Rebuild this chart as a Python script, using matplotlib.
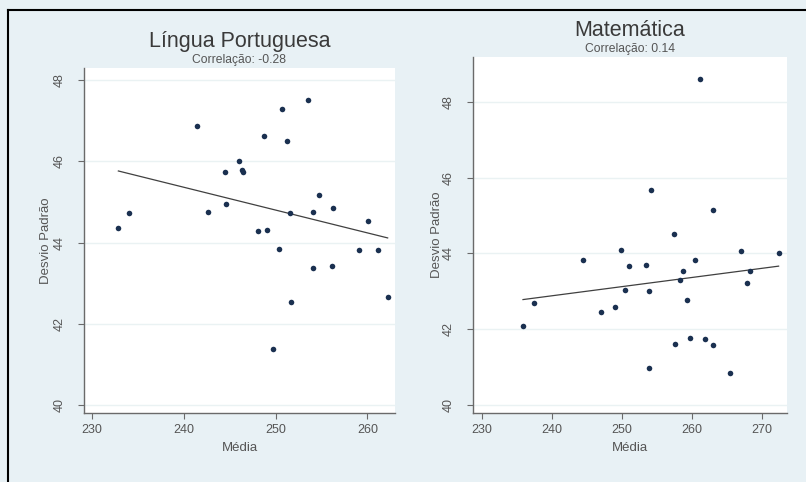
import numpy as np
import matplotlib
matplotlib.use("Agg")
import matplotlib.pyplot as plt
from matplotlib.lines import Line2D

plt.rcParams['font.family'] = ['Liberation Sans', 'DejaVu Sans']

# Língua Portuguesa
lp_media = [232.9, 234.1, 241.5, 242.6, 244.5, 244.6, 246.0, 246.4, 246.5, 248.1,
            249.1, 248.7, 249.7, 250.4, 250.7, 251.3, 251.6, 251.7, 253.5, 254.1,
            254.1, 254.7, 256.2, 256.1, 259.1, 260.1, 261.2, 262.2]
lp_dp = [44.37, 44.73, 46.87, 44.75, 45.73, 44.94, 46.00, 45.78, 45.74, 44.29,
         44.31, 46.62, 41.37, 43.84, 47.30, 46.51, 44.73, 42.53, 47.51, 44.74,
         43.37, 45.18, 44.84, 43.43, 43.81, 44.54, 43.81, 42.67]

# Matemática
mt_media = [235.9, 237.4, 244.4, 247.1, 249.1, 249.95, 250.4, 251.1, 253.4, 253.9,
            253.9, 254.2, 257.4, 257.6, 258.3, 258.8, 259.3, 259.7, 260.5, 261.2,
            261.9, 263.0, 263.1, 265.4, 267.1, 267.9, 268.3, 272.4]
mt_dp = [42.08, 42.69, 43.82, 42.45, 42.59, 44.09, 43.03, 43.67, 43.70, 43.00,
         40.97, 45.67, 44.52, 41.61, 43.31, 43.53, 42.77, 41.76, 43.82, 48.59,
         41.74, 41.58, 45.15, 40.85, 44.07, 43.23, 43.53, 44.02]

titles = ["Língua Portuguesa", "Matemática"]
subtitles = ["Correlação: -0.28", "Correlação: 0.14"]
x_ticks = [[230, 240, 250, 260], [230, 240, 250, 260, 270]]
y_ticks = [40, 42, 44, 46, 48]

W, H = 806, 482
bg = '#e8f1f5'
fig = plt.figure(figsize=(W / 100, H / 100), dpi=100, facecolor=bg)

# border (left and top visible)
fig.add_artist(Line2D([8 / W, 8 / W], [0, 1 - 10 / H], transform=fig.transFigure, color='black', lw=1.5))
fig.add_artist(Line2D([8 / W, 1], [1 - 10 / H, 1 - 10 / H], transform=fig.transFigure, color='black', lw=1.5))

panels = [
    dict(px=(84, 395, 68, 413), xlim=(229.16, 263.0), ylim=(39.80, 48.30),
         x=lp_media, y=lp_dp, ylab_right=52),
    dict(px=(473, 787, 57, 413), xlim=(228.76, 273.6), ylim=(39.79, 49.18),
         x=mt_media, y=mt_dp, ylab_right=443),
]

for i, p in enumerate(panels):
    x0, x1, y0, y1 = p['px']
    ax = fig.add_axes([x0 / W, 1 - y1 / H, (x1 - x0) / W, (y1 - y0) / H])
    ax.set_facecolor('white')
    ax.set_xlim(*p['xlim'])
    ax.set_ylim(*p['ylim'])
    for s in ['top', 'right']:
        ax.spines[s].set_visible(False)
    for s in ['left', 'bottom']:
        ax.spines[s].set_color('#6a6a6a')
        ax.spines[s].set_linewidth(1.0)
    ax.set_xticks(x_ticks[i])
    ax.set_yticks(y_ticks)
    ax.set_yticklabels([str(v) for v in y_ticks], rotation=90, va='center')
    ax.tick_params(axis='both', colors='#6a6a6a', labelcolor='#555555',
                   labelsize=9, length=4, width=0.8)
    ax.tick_params(axis='y', pad=9)
    ax.tick_params(axis='x', pad=4)
    ax.grid(axis='y', color='#eaf2f3', lw=1.0)
    ax.set_axisbelow(True)

    xs = np.array(p['x'])
    ys = np.array(p['y'])
    ax.scatter(xs, ys, s=16, color='#1a3050', zorder=3, linewidths=0)
    b, a = np.polyfit(xs, ys, 1)
    xl = np.array([xs.min(), xs.max()])
    ax.plot(xl, a + b * xl, color='#404040', lw=0.9, zorder=2)

    ax.set_xlabel('Média', fontsize=9.5, color='#555555')
    ax.set_ylabel('Desvio Padrão', fontsize=9.5, color='#555555')
    ax.xaxis.set_label_coords(0.5, -(442 - y1) / (y1 - y0))
    ax.yaxis.set_label_coords((p['ylab_right'] - x0) / (x1 - x0), 0.5)

    cx = (x0 + x1) / 2 / W
    fig.text(cx, 1 - (y0 - 26) / H, titles[i], ha='center', va='center',
             fontsize=15.5, color='#3a3a3a')
    fig.text(cx, 1 - (y0 - 8) / H, subtitles[i], ha='center', va='center',
             fontsize=8.7, color='#555555')

fig.savefig('out.png', dpi=100, facecolor=bg)
